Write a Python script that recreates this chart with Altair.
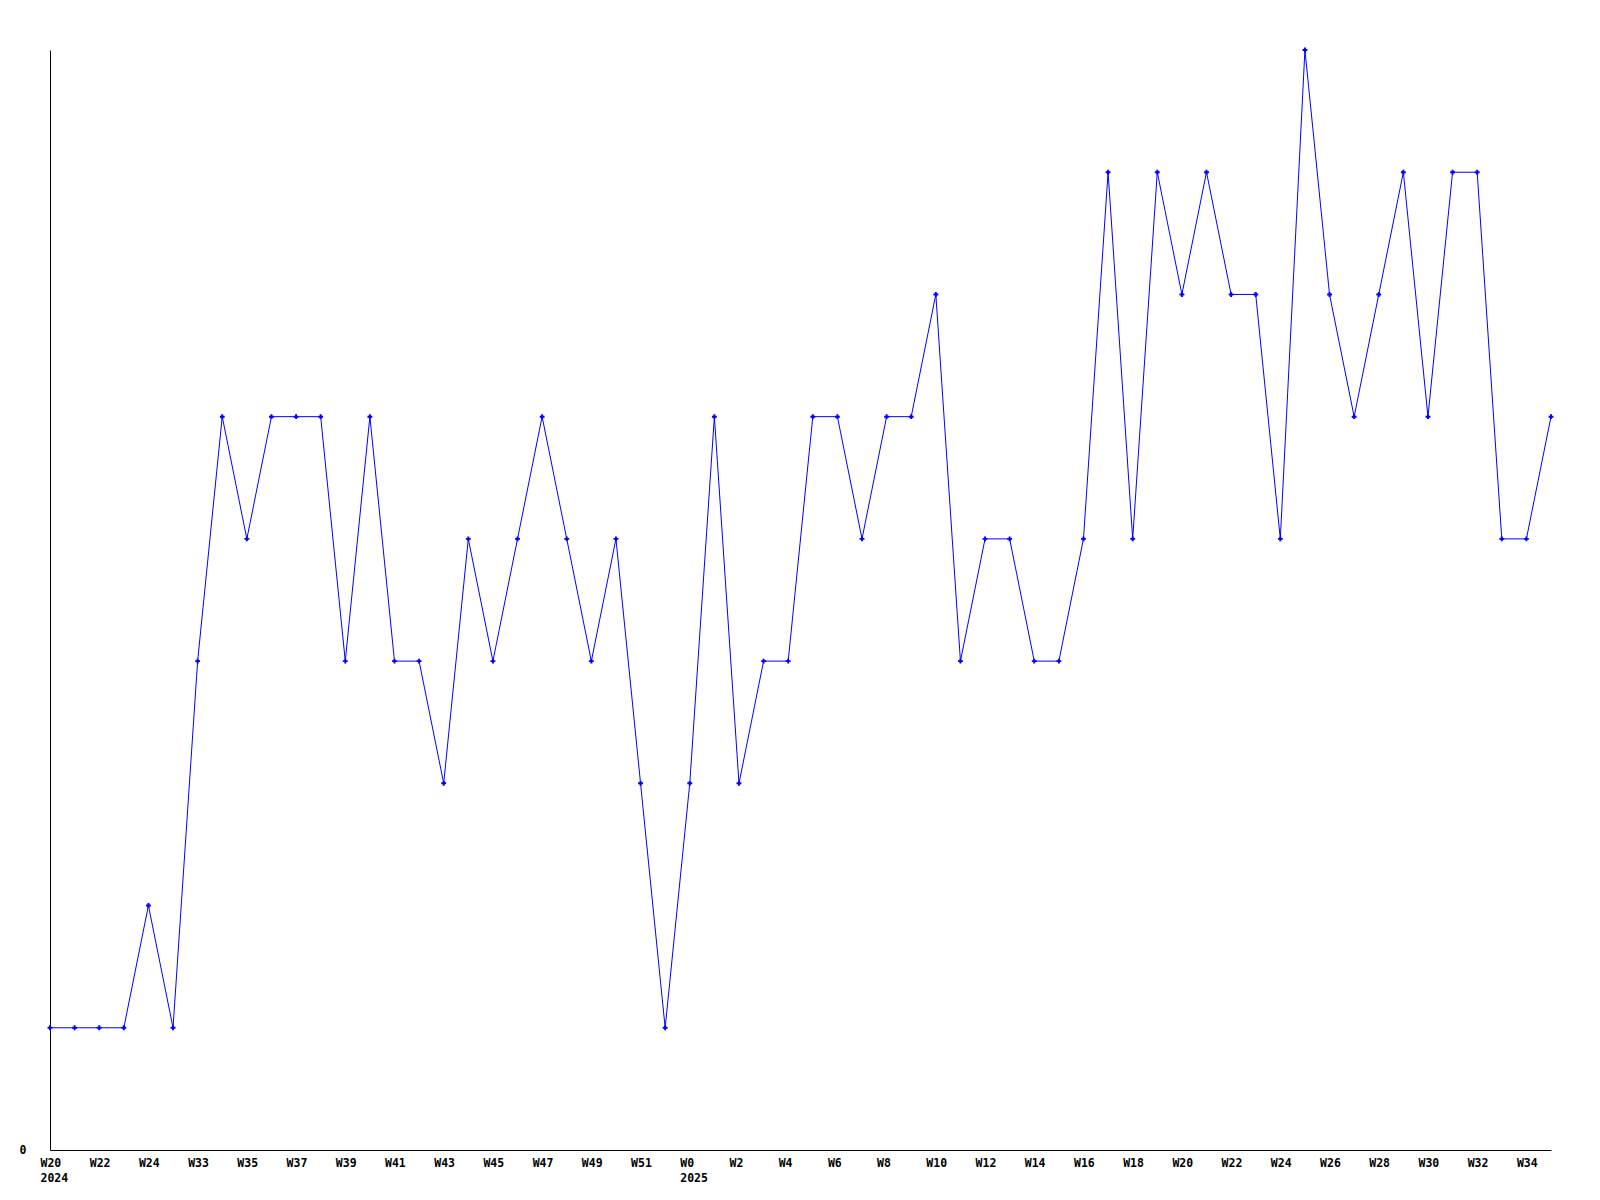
import altair as alt
import pandas as pd

years = [2024] * 26 + [2025] * 36
weeks = [20, 21, 22, 23, 24, 25,
         33, 34, 35, 36, 37, 38, 39, 40, 41, 42, 43, 44, 45, 46, 47, 48, 49, 50, 51, 52,
         0, 1, 2, 3, 4, 5, 6, 7, 8, 9, 10, 11, 12, 13, 14, 15, 16, 17, 18, 19, 20,
         21, 22, 23, 24, 25, 26, 27, 28, 29, 30, 31, 32, 33, 34, 35]
values = [1, 1, 1, 1, 2, 1,
          4, 6, 5, 6, 6, 6, 4, 6, 4, 4, 3, 5, 4, 5, 6, 5, 4, 5, 3, 1,
          3, 6, 3, 4, 4, 6, 6, 5, 6, 6, 7, 4, 5, 5, 4, 4, 5, 8, 5, 8, 7,
          8, 7, 7, 5, 9, 7, 6, 7, 8, 6, 8, 8, 5, 5, 6]

keys = [f"{y}-W{w}" for y, w in zip(years, weeks)]
df = pd.DataFrame({"key": keys, "value": values})
label_keys = keys[::2]

label_expr = ("(datum.value == '2024-W20' || datum.value == '2025-W0') ? "
              "[split(datum.value, '-')[1], split(datum.value, '-')[0]] : "
              "split(datum.value, '-')[1]")

FONT = "DejaVu Sans Mono"

x = alt.X("key:N", sort=keys,
          scale=alt.Scale(type="point", padding=0),
          axis=alt.Axis(title=None, values=label_keys, labelExpr=label_expr,
                        labelAngle=0, ticks=False, tickSize=0, grid=False,
                        domainColor="black", domainWidth=1,
                        labelFont=FONT, labelFontWeight="bold", labelFontSize=11.5,
                        labelColor="black", labelPadding=7, labelLineHeight=15,
                        labelBaseline="top", labelAlign="left", labelOffset=-10,
                        labelOverlap=False, labelBound=False, labelFlush=False))
y = alt.Y("value:Q", scale=alt.Scale(domain=[0, 9], nice=False, zero=True),
          axis=alt.Axis(title=None, values=[0], ticks=False, tickSize=0, grid=False,
                        domainColor="black", domainWidth=1,
                        labelFont=FONT, labelFontWeight="bold", labelFontSize=11.5,
                        labelColor="black", labelPadding=24))

base = alt.Chart(df)
line = base.mark_line(color="#0000ff", strokeWidth=1).encode(x=x, y=y)
pts = base.mark_point(color="#0000ff", filled=True, shape="cross", size=24, opacity=1).encode(x=x, y=y)

chart = (line + pts).properties(
    width=1501, height=1100,
    background="white",
    autosize=alt.AutoSizeParams(type="none"),
    padding={"left": 42, "top": 42, "right": 40, "bottom": 60},
).configure_view(stroke=None, strokeWidth=0)

chart.save("out.html", embed_options={"renderer": "svg", "actions": False})
